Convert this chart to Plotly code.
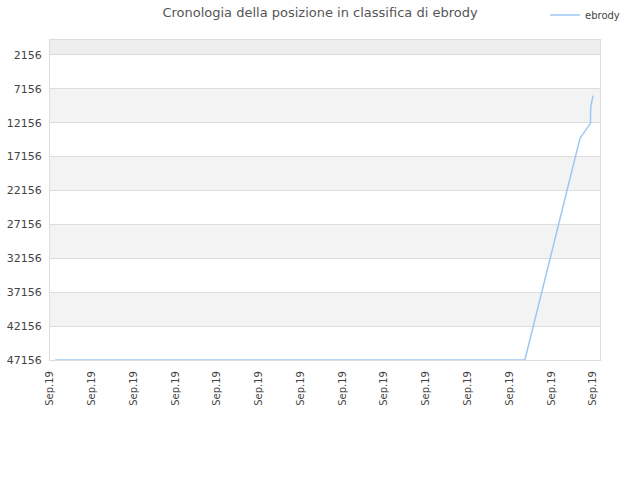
import plotly.graph_objects as go

# ebrody position history (rank, lower number = better)
dates = ["2019-09-01 03:00", "2019-09-04 12:00", "2019-09-08 00:00", "2019-09-12 08:50",
         "2019-09-13 16:30", "2019-09-13 22:30", "2019-09-13 22:40", "2019-09-14 00:00"]
ranks = [47156, 47156, 47156, 47156, 14470, 12250, 9800, 8170]

band_lo = [-50, 7156, 17156, 27156, 37156]
band_hi = [2156, 12156, 22156, 32156, 42156]
band_col = ["#eeeeee", "#f3f3f3", "#f3f3f3", "#f3f3f3", "#f3f3f3"]

fig = go.Figure()
fig.add_trace(go.Scatter(x=dates, y=ranks, mode="lines", name="ebrody",
                         line=dict(color="#9ec7f2", width=1.5)))

for lo, hi, c in zip(band_lo, band_hi, band_col):
    fig.add_shape(type="rect", xref="paper", yref="y", x0=0, x1=1, y0=lo, y1=hi,
                  fillcolor=c, line_width=0, layer="below")

fig.update_layout(
    width=640, height=480,
    title=dict(text="Cronologia della posizione in classifica di ebrody", x=0.5, y=0.975,
               xanchor="center", yanchor="middle", font=dict(size=13, color="#555")),
    font=dict(family="DejaVu Sans", size=11, color="#444"),
    margin=dict(l=50, r=40, t=40, b=120, autoexpand=False),
    plot_bgcolor="white", paper_bgcolor="white",
    showlegend=True,
    legend=dict(x=0.9, y=1.078, xanchor="left", yanchor="middle", font=dict(size=10),
                itemwidth=30, bgcolor="rgba(0,0,0,0)"),
)
fig.update_xaxes(type="date", range=["2019-09-01", "2019-09-14 04:00"], tick0="2019-09-01",
                 dtick=86400000, tickformat="%b.%y", tickangle=-90, showgrid=False,
                 showline=True, linecolor="#dddddd", mirror=True, ticks="", tickfont=dict(size=10),
                 ticklabelstandoff=6, automargin=False)
fig.update_yaxes(range=[47156, -50], tick0=2156, dtick=5000, tickformat="d", showgrid=True,
                 gridcolor="#dddddd", showline=True, linecolor="#dddddd", mirror=True,
                 zeroline=False, tickfont=dict(size=11), ticklabelstandoff=5, automargin=False)

# drop the page's default body margin so the figure sits at the window corner
fig.write_html("out.html", config={"displayModeBar": False},
               post_script="document.body.style.margin='0';")
